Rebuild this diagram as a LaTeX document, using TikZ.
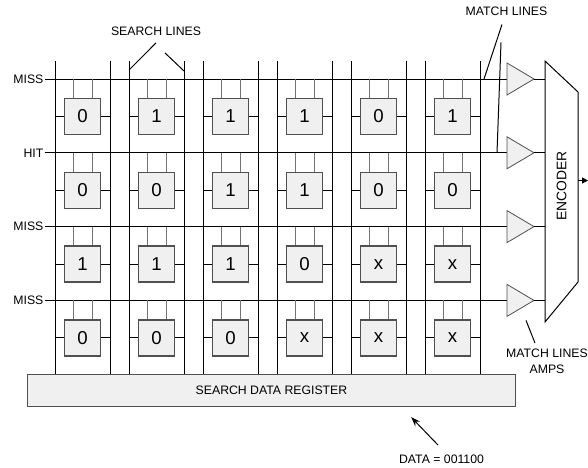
\documentclass[tikz,border=0pt]{standalone}
\usepackage{fontspec}
\setmainfont{Liberation Sans}
\usetikzlibrary{arrows.meta, positioning, calc}
\definecolor{cellfill}{HTML}{F0F0F0}
\definecolor{celledge}{HTML}{505050}

\begin{document}
\begin{tikzpicture}[
  x=0.75pt, y=-0.75pt,
  font=\fontsize{9.2}{12}\selectfont,
  cell/.style   = {rectangle, draw=celledge, fill=cellfill, line width=1pt,
                   minimum size=27pt, inner sep=0pt, font=\fontsize{14}{16}\selectfont},
  regbox/.style = {rectangle, draw=celledge, fill=cellfill, line width=1pt,
                   minimum width=366pt, minimum height=24pt, inner sep=0pt},
  wire/.style   = {black, line width=0.75pt},
  tap/.style    = {black!55, line width=0.75pt},
  amp/.style    = {draw=celledge, fill=cellfill, line width=0.6pt},
  lbl/.style    = {inner sep=1pt},
  arr/.style    = {-{Stealth[length=7pt, width=5pt]}, black, line width=0.75pt},
  outarr/.style = {-{Triangle[length=4.5pt, width=4.5pt]}, black, line width=0.75pt}
]
\useasboundingbox (0,0) rectangle (588,467);

\node[regbox] (reg) at (271.5,390.5) {SEARCH DATA REGISTER};

\foreach \col in {0,...,5} {
  \coordinate (sla\col) at ({55+74*\col},61);
  \coordinate (slb\col) at ({110+74*\col},61);
  \draw[wire] (sla\col) -- (sla\col |- reg.north);
  \draw[wire] (slb\col) -- (slb\col |- reg.north);
}

\foreach \row/\txt in {0/MISS, 1/HIT, 2/MISS, 3/MISS} {
  \coordinate (ml\row)   at (45,{79+73.8*\row});
  \coordinate (ain\row)  at (507,{79+73.8*\row});
  \coordinate (aout\row) at (534,{79+73.8*\row});
  \node[lbl, left] (hit\row) at (ml\row) {\txt};
  \draw[wire] (ml\row) -- (ain\row);
  \draw[amp] ($(ain\row)+(0,-16)$) -- (aout\row) -- ($(ain\row)+(0,16)$) -- cycle;
}

\foreach \row/\vals in {0/{0,1,1,1,0,1}, 1/{0,0,1,1,0,0}, 2/{1,1,1,0,x,x}, 3/{0,0,0,x,x,x}} {
  \foreach \v [count=\col from 0] in \vals {
    \node[cell] (c\row\col) at ({82.5+74*\col},{116.5+73.8*\row}) {\v};
    \coordinate (tl) at ($(c\row\col.north)+(-9.5,0)$);
    \coordinate (tr) at ($(c\row\col.north)+(9.5,0)$);
    \draw[tap] (tl) -- (tl |- ml\row);
    \draw[tap] (tr) -- (tr |- ml\row);
    \draw[wire] (c\row\col.west) -- (c\row\col.west -| sla\col);
    \draw[wire] (c\row\col.east) -- (c\row\col.east -| slb\col);
  }
}

\draw[wire, fill=white] (545,61) coordinate (enctl) -- (578,92) -- (578,282) coordinate (encr)
  -- (545,322) -- cycle;
\node[rotate=90, font=\fontsize{10.4}{12}\selectfont] (enc) at (561.5,186) {ENCODER};
\foreach \row in {0,...,3}
  \draw[wire] (aout\row) -- (aout\row -| enctl);
\coordinate (encout) at (588,180.5);
\draw[outarr] (encout -| encr) -- (encout);

\node[lbl] (sllbl) at (156,31) {SEARCH LINES};
\draw[wire] (sllbl.south) ++(0,6) -- ($(sla1)+(0,9)$);
\draw[wire] (sllbl.south) ++(9,16) -- ($(slb1)+(0,10)$);

\node[lbl] (mllbl) at (506.5,11.5) {MATCH LINES};
\draw[wire] (mllbl.south) ++(-4.5,7) -- ($(ain0)+(-23,0)$);
\draw[wire] (mllbl.south) ++(-5.5,25) -- ($(ain1)+(-10,0)$);

\node[lbl, align=center] (amplbl) at (547,361) {MATCH LINES\\AMPS};
\draw[wire] ($(aout3)+(-8,20)$) -- ($(amplbl.north)+(-12,-4)$);

\node[lbl] (datalbl) at (441.5,459) {DATA = 001100};
\draw[arr] (datalbl.north) ++(-3.5,-8) -- ($(reg.south east)+(-105,10)$);

\end{tikzpicture}
\end{document}
